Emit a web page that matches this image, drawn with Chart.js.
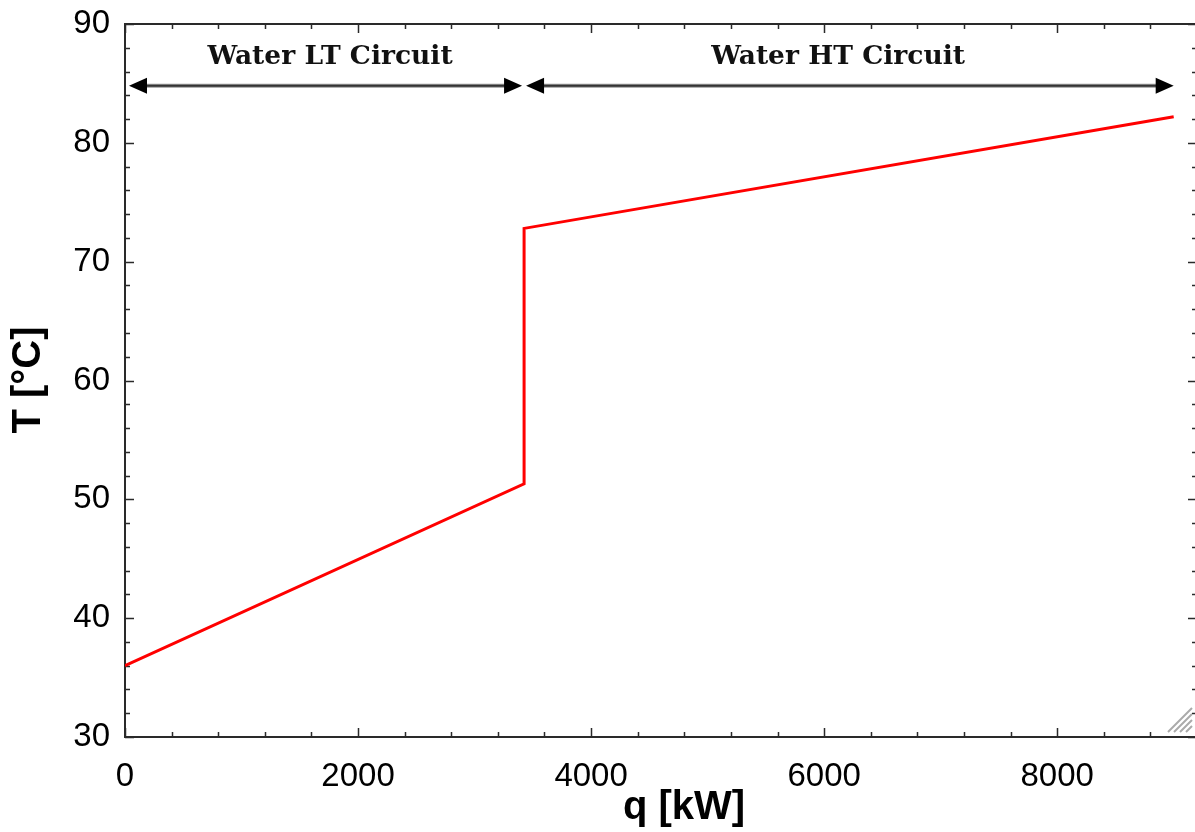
<!DOCTYPE html>
<html>
<head>
<meta charset="utf-8">
<script src="https://cdn.jsdelivr.net/npm/chart.js@4/dist/chart.umd.min.js"></script>
<style>
  html, body { margin: 0; padding: 0; background: #fff; overflow: hidden; }
  #wrap { width: 1200px; height: 832px; }
</style>
</head>
<body>
<div id="wrap"><canvas id="chart" width="1200" height="832"></canvas></div>
<script>
// heat released vs. water temperature (LT circuit, then HT circuit)
const qValues = [0, 3425, 3425, 9000];
const tValues = [36.0, 51.3, 72.8, 82.2];

const xTickValues = [0, 2000, 4000, 6000, 8000];
const yTickValues = [30, 40, 50, 60, 70, 80, 90];

const circuitNames = ['Water LT Circuit', 'Water HT Circuit'];
const circuitSpans = [[0, 3425], [3425, 9000]];
const circuitLabelQ = [1760, 6120];
const arrowT = 84.8;
const labelT = 87.2;

const FRAME = '#2a2a2a';
const TICK_FONT = { family: '"Liberation Sans", Arial, sans-serif', size: 33 };

function drawArrowHead(ctx, x, y, dir){
	ctx.beginPath();
	ctx.moveTo(x, y);
	ctx.lineTo(x - dir*18, y - 8);
	ctx.lineTo(x - dir*18, y + 8);
	ctx.closePath();
	ctx.fill();
}

// inward ticks on all four sides + frame
const frameTicks = {
	id: 'frameTicks',
	beforeDatasetsDraw(chart){
		const {ctx, chartArea: a, scales: {x, y}} = chart;
		ctx.save();
		ctx.strokeStyle = FRAME;
		ctx.lineWidth = 2;
		ctx.beginPath();
		ctx.moveTo(a.left, a.top); ctx.lineTo(a.right, a.top);
		ctx.moveTo(a.right, a.top); ctx.lineTo(a.right, a.bottom);
		ctx.stroke();
		ctx.lineWidth = 1.5;
		ctx.beginPath();
		for (let v = x.min; v <= x.max; v += 400){
			const px = Math.round(x.getPixelForValue(v)) + 0.5;
			const len = v % 2000 === 0 ? 9 : 5;
			ctx.moveTo(px, a.bottom); ctx.lineTo(px, a.bottom - len);
			ctx.moveTo(px, a.top); ctx.lineTo(px, a.top + len);
		}
		for (let v = y.min; v <= y.max; v += 2){
			const py = Math.round(y.getPixelForValue(v)) + 0.5;
			const len = v % 10 === 0 ? 9 : 5;
			ctx.moveTo(a.left, py); ctx.lineTo(a.left + len, py);
			ctx.moveTo(a.right, py); ctx.lineTo(a.right - len, py);
		}
		ctx.stroke();
		ctx.restore();
	},
	afterDraw(chart){
		const {ctx, chartArea: a, scales: {x, y}} = chart;
		ctx.save();
		// circuit arrows
		const ay = y.getPixelForValue(arrowT);
		circuitSpans.forEach((s, i)=>{
			const x0 = x.getPixelForValue(s[0]) + (i === 0 ? 4 : 2);
			const x1 = x.getPixelForValue(s[1]) - (i === 0 ? 2 : 0);
			ctx.strokeStyle = '#999';
			ctx.lineWidth = 4;
			ctx.beginPath(); ctx.moveTo(x0 + 10, ay); ctx.lineTo(x1 - 10, ay); ctx.stroke();
			ctx.strokeStyle = '#333';
			ctx.lineWidth = 2;
			ctx.beginPath(); ctx.moveTo(x0 + 10, ay); ctx.lineTo(x1 - 10, ay); ctx.stroke();
			ctx.fillStyle = '#000';
			drawArrowHead(ctx, x0, ay, -1);
			drawArrowHead(ctx, x1, ay, 1);
		});
		// circuit names
		ctx.fillStyle = '#111';
		ctx.font = 'bold 26.5px "DejaVu Serif", serif';
		ctx.textAlign = 'center';
		ctx.textBaseline = 'middle';
		circuitNames.forEach((n, i)=>{
			ctx.fillText(n, x.getPixelForValue(circuitLabelQ[i]), y.getPixelForValue(labelT));
		});
		// axis titles
		ctx.fillStyle = '#000';
		ctx.font = 'bold 40px "Liberation Sans", Arial, sans-serif';
		ctx.fillText('q [kW]', 684, 808);
		ctx.translate(29, 380);
		ctx.rotate(-Math.PI/2);
		ctx.fillText('T [°C]', 0, 0);
		ctx.restore();
		// resize grip, bottom right
		ctx.save();
		ctx.strokeStyle = '#aaa';
		ctx.lineWidth = 2;
		ctx.beginPath();
		for (let k = 0; k < 4; k++){
			const o = 6 + k*6;
			ctx.moveTo(a.right - 5 - o, a.bottom - 5);
			ctx.lineTo(a.right - 5, a.bottom - 5 - o);
		}
		ctx.stroke();
		ctx.restore();
	}
};

new Chart(document.getElementById('chart'), {
	type: 'line',
	data: {
		datasets: [{
			data: qValues.map((q, i)=>({ x: q, y: tValues[i] })),
			borderColor: '#ff0000',
			borderWidth: 3,
			pointRadius: 0,
			tension: 0,
			fill: false
		}]
	},
	options: {
		responsive: false,
		animation: false,
		layout: { padding: { top: 24, right: 3, left: 0, bottom: 0 } },
		plugins: { legend: { display: false }, tooltip: { enabled: false } },
		scales: {
			x: {
				type: 'linear',
				min: 0, max: 9200,
				grid: { display: false, drawTicks: false },
				border: { display: true, color: FRAME, width: 2 },
				afterBuildTicks: s => { s.ticks = xTickValues.map(v => ({ value: v })); },
				afterFit: s => { s.height = 95; s.paddingLeft = 0; s.paddingRight = 0; },
				ticks: { color: '#000', font: TICK_FONT, padding: 20, maxRotation: 0, autoSkip: false, callback: v => String(v) }
			},
			y: {
				type: 'linear',
				min: 30, max: 90,
				grid: { display: false, drawTicks: false },
				border: { display: true, color: FRAME, width: 2 },
				afterBuildTicks: s => { s.ticks = yTickValues.map(v => ({ value: v })); },
				afterFit: s => { s.width = 125; s.paddingTop = 0; s.paddingBottom = 0; },
				ticks: { color: '#000', font: TICK_FONT, padding: 15, callback: v => String(v) }
			}
		}
	},
	plugins: [frameTicks]
});
</script>
</body>
</html>
